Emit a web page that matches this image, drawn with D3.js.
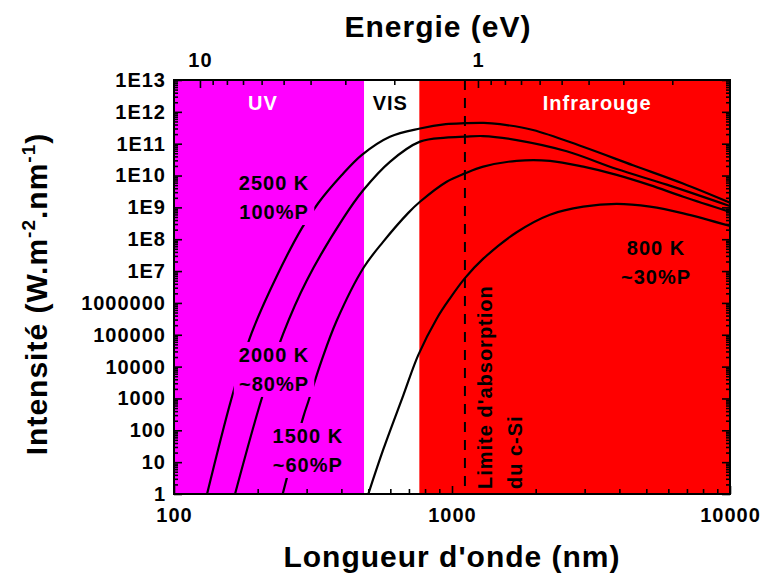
<!DOCTYPE html>
<html lang="fr">
<head>
<meta charset="utf-8">
<title>Corps noir - intensite spectrale</title>
<script src="https://d3js.org/d3.v7.min.js"></script>
<style>
  body { margin: 0; background: #fff; }
  svg text { font-family: "Liberation Sans", Arial, sans-serif; font-weight: bold; letter-spacing: 1px; }
  .tick text { font-size: 20px; fill: #000; }
  .lbl { font-size: 20px; }
  .title { font-size: 30px; }
</style>
</head>
<body>
<svg id="chart"></svg>
<script>
// spectral domains (nm)
var regionNames = ["UV", "VIS", "Infrarouge"];
var regionFrom = [100, 483, 763];
var regionTo = [483, 763, 10000];
var regionColors = ["#ff00ff", "#ffffff", "#ff0000"];
var regionTextColors = ["#ffffff", "#000000", "#ffffff"];
var regionLabelAt = [209, 600, 3330];
var regionLabelInt = 1.15e12;

// black body curves, wavelength (nm) and intensity
var wl2500 = [131.5, 161, 190, 233, 288, 330, 400, 473, 598, 767, 950, 1113, 1300, 1488, 1956, 2960, 4478, 6774, 10000];
var in2500 = [1, 1.0e3, 1.1e5, 6.3e6, 2.2e8, 1.35e9, 1.0e10, 4.4e10, 1.66e11, 3.0e11, 4.1e11, 4.4e11, 4.5e11, 4.1e11, 2.7e11, 8.0e10, 2.1e10, 5.6e9, 1.4e9];
var wl2000 = [165.8, 206.8, 247.3, 300, 406, 480, 598, 767, 950, 1113, 1293, 1709, 2586, 3912, 5920, 10000];
var in2000 = [1, 1.0e3, 1.1e5, 5.0e6, 4.5e8, 3.5e9, 2.7e10, 1.16e11, 1.55e11, 1.66e11, 1.74e11, 1.3e11, 5.8e10, 1.6e10, 5.2e9, 1.1e9];
var wl1500 = [246, 292, 304, 340, 385, 480, 566, 695, 767, 957, 1113, 1296, 1709, 2251, 2967, 3912, 5155, 6792, 10000];
var in1500 = [1, 2.7e2, 7.9e2, 1.6e4, 2.8e5, 1.25e7, 8.4e7, 6.6e8, 1.5e9, 6.4e9, 1.17e10, 1.9e10, 2.9e10, 2.9e10, 1.9e10, 1.05e10, 5.0e9, 2.15e9, 7.2e8];
var wl800 = [500, 566, 668, 756, 881, 984, 1113, 1296, 1709, 2251, 2967, 3912, 5155, 6792, 10000];
var in800 = [1, 25, 1.25e3, 2.3e4, 3.2e5, 1.4e6, 6.0e6, 2.45e7, 1.66e8, 5.9e8, 1.05e9, 1.28e9, 1.05e9, 6.5e8, 2.6e8];

var curveLabels = [["2500 K", "100%P"], ["2000 K", "~80%P"], ["1500 K", "~60%P"], ["800 K", "~30%P"]];
var labelLambda = [229, 229, 303, 5420];
var labelInt = [3.5e9, 1.4e4, 40, 3.2e7];

var siLimit = 1113; // nm
var siText = ["Limite d'absorption", "du c-Si"];

var yLabels = ["1", "10", "100", "1000", "10000", "100000", "1000000", "1E7", "1E8", "1E9", "1E10", "1E11", "1E12", "1E13"];
var xMajor = [100, 1000, 10000];
var eMajor = [10, 1];

var W = 763, H = 575;
var margin = {top: 80, right: 33, bottom: 81, left: 174};
var hc = 1239.84;

var x = d3.scaleLog().domain([100, 10000]).range([margin.left, W - margin.right]);
var y = d3.scaleLog().domain([1, 1e13]).range([H - margin.bottom, margin.top]);
var xE = d3.scaleLog().domain([hc / 100, hc / 10000]).range([margin.left, W - margin.right]);

var svg = d3.select("#chart").attr("width", W).attr("height", H);

// background bands
svg.selectAll(".region").data(regionNames).enter().append("rect")
  .attr("class", "region")
  .attr("x", (d, i) => x(regionFrom[i]))
  .attr("y", y(1e13))
  .attr("width", (d, i) => x(regionTo[i]) - x(regionFrom[i]))
  .attr("height", y(1) - y(1e13))
  .attr("fill", (d, i) => regionColors[i]);

svg.selectAll(".regionLbl").data(regionNames).enter().append("text")
  .attr("class", "lbl")
  .attr("x", (d, i) => x(regionLabelAt[i]))
  .attr("y", y(regionLabelInt))
  .attr("text-anchor", "middle")
  .attr("fill", (d, i) => regionTextColors[i])
  .text(d => d);

// curves
svg.append("clipPath").attr("id", "clip").append("rect")
  .attr("x", x(100)).attr("y", y(1e13))
  .attr("width", x(10000) - x(100)).attr("height", y(1) - y(1e13));

var series = [[wl2500, in2500], [wl2000, in2000], [wl1500, in1500], [wl800, in800]];
var line = d3.line().x(d => x(d[0])).y(d => y(d[1])).curve(d3.curveCatmullRom.alpha(0.5));

svg.append("g").attr("clip-path", "url(#clip)")
  .selectAll("path").data(series).enter().append("path")
  .attr("d", s => line(s[0].map((w, i) => [w, s[1][i]])))
  .attr("fill", "none")
  .attr("stroke", "#000")
  .attr("stroke-width", 2.2);

// silicon absorption limit
svg.append("line")
  .attr("x1", x(siLimit)).attr("x2", x(siLimit))
  .attr("y1", y(1e13)).attr("y2", y(1))
  .attr("stroke", "#000").attr("stroke-width", 2)
  .attr("stroke-dasharray", "10,8");

svg.selectAll(".siLbl").data(siText).enter().append("text")
  .attr("class", "lbl")
  .attr("transform", (d, i) => "translate(" + (x(siLimit) + 27 + i * 30) + "," + (y(1) - 5) + ") rotate(-90)")
  .text(d => d);

// curve labels with a background that hides the curves
function bandColor(w) {
  for (var i = 0; i < regionFrom.length; i++) {
    if (w >= regionFrom[i] && w < regionTo[i]) return regionColors[i];
  }
  return "#fff";
}
curveLabels.forEach(function(lines, i) {
  var g = svg.append("g");
  var t = g.append("text").attr("class", "lbl").attr("text-anchor", "middle").attr("fill", "#000");
  lines.forEach(function(s, j) {
    t.append("tspan").attr("x", x(labelLambda[i])).attr("y", y(labelInt[i]) + j * 29).text(s);
  });
  var b = t.node().getBBox();
  g.insert("rect", "text")
    .attr("x", b.x - 5).attr("y", b.y - 2)
    .attr("width", b.width + 10).attr("height", b.height + 4)
    .attr("fill", bandColor(labelLambda[i]));
});

// axes
var xMinor = [];
[100, 1000].forEach(function(dec) { for (var m = 2; m <= 9; m++) xMinor.push(m * dec); });
var yMajor = [], yMinor = [];
for (var k = 0; k <= 13; k++) {
  yMajor.push(Math.pow(10, k));
  if (k < 13) for (var m = 2; m <= 9; m++) yMinor.push(m * Math.pow(10, k));
}
var eMinor = [];
[1, 0.1].forEach(function(dec) {
  for (var m = 2; m <= 9; m++) { var v = m * dec; if (v > hc / 10000 && v < hc / 100) eMinor.push(v); }
});

function styleAxis(g) {
  g.attr("font-size", null).attr("font-family", null);
  g.select(".domain").remove();
  g.selectAll(".tick line").attr("stroke", "#000").attr("stroke-width", 1.6);
}

var yBottom = H - margin.bottom, xLeft = margin.left, xRight = W - margin.right, yTop = margin.top;

svg.append("g").attr("transform", "translate(0," + yBottom + ")")
  .call(d3.axisBottom(x).tickValues(xMinor).tickSize(-5).tickFormat("")).call(styleAxis);
svg.append("g").attr("transform", "translate(0," + yBottom + ")")
  .call(d3.axisBottom(x).tickValues(xMajor).tickSize(-8).tickPadding(14).tickFormat(d3.format("d"))).call(styleAxis);

svg.append("g").attr("transform", "translate(0," + yTop + ")")
  .call(d3.axisTop(xE).tickValues(eMinor).tickSize(-5).tickFormat("")).call(styleAxis);
svg.append("g").attr("transform", "translate(0," + yTop + ")")
  .call(d3.axisTop(xE).tickValues(eMajor).tickSize(-8).tickPadding(13).tickFormat(d3.format("d"))).call(styleAxis);

svg.append("g").attr("transform", "translate(" + xLeft + ",0)")
  .call(d3.axisLeft(y).tickValues(yMinor).tickSize(-4).tickFormat("")).call(styleAxis);
svg.append("g").attr("transform", "translate(" + xLeft + ",0)")
  .call(d3.axisLeft(y).tickValues(yMajor).tickSize(-8).tickPadding(8).tickFormat((d, i) => yLabels[i])).call(styleAxis);

svg.append("g").attr("transform", "translate(" + xRight + ",0)")
  .call(d3.axisRight(y).tickValues(yMinor).tickSize(-4).tickFormat("")).call(styleAxis);
svg.append("g").attr("transform", "translate(" + xRight + ",0)")
  .call(d3.axisRight(y).tickValues(yMajor).tickSize(-8).tickFormat("")).call(styleAxis);

// frame
svg.append("rect")
  .attr("x", xLeft).attr("y", yTop)
  .attr("width", xRight - xLeft).attr("height", yBottom - yTop)
  .attr("fill", "none").attr("stroke", "#000").attr("stroke-width", 2);

// titles
svg.append("text").attr("class", "title")
  .attr("x", 438).attr("y", 37).attr("text-anchor", "middle")
  .text("Energie (eV)");
svg.append("text").attr("class", "title")
  .attr("x", 452).attr("y", 567).attr("text-anchor", "middle")
  .text("Longueur d'onde (nm)");

var yt = svg.append("text").attr("class", "title")
  .attr("transform", "translate(47,294) rotate(-90)")
  .attr("text-anchor", "middle");
yt.append("tspan").text("Intensité (W.m");
yt.append("tspan").attr("dy", -12).style("font-size", "19px").text("-2");
yt.append("tspan").attr("dy", 12).text(".nm");
yt.append("tspan").attr("dy", -12).style("font-size", "19px").text("-1");
yt.append("tspan").attr("dy", 12).text(")");
</script>
</body>
</html>
